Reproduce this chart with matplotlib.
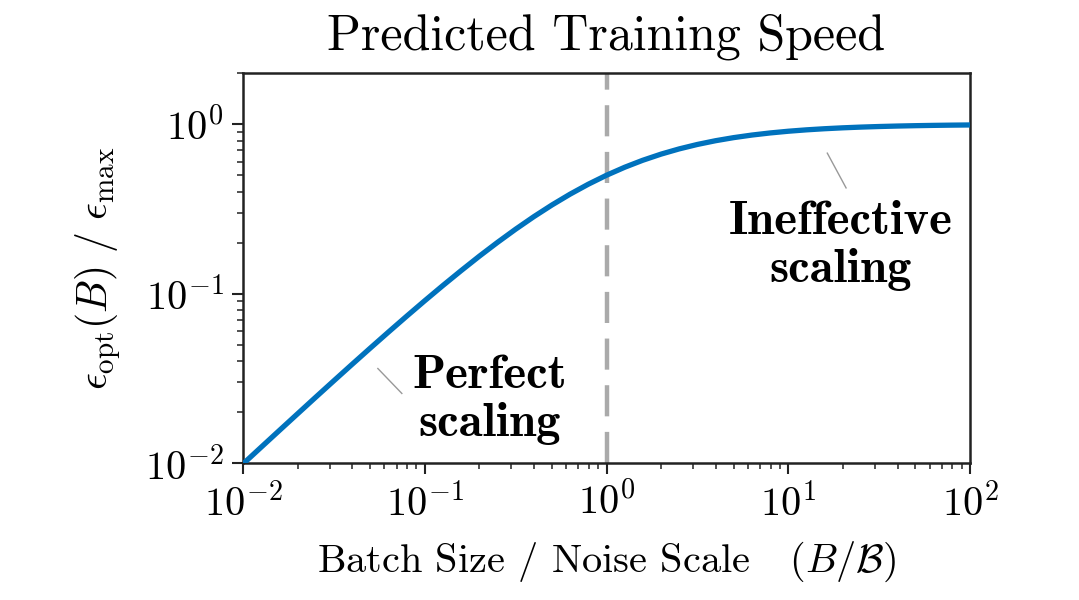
import matplotlib
matplotlib.use("Agg")
import matplotlib.pyplot as plt

plt.rcParams['font.family'] = 'serif'
plt.rcParams['font.serif'] = ['cmr10']
plt.rcParams['mathtext.fontset'] = 'cm'
plt.rcParams['axes.formatter.use_mathtext'] = True

# Data
batch_ratio = [0.01, 0.0126, 0.0158, 0.02, 0.0251, 0.0316, 0.0398, 0.0501, 0.0631, 0.0794,
               0.1, 0.126, 0.158, 0.2, 0.251, 0.316, 0.398, 0.501, 0.631, 0.794,
               1.0, 1.26, 1.58, 2.0, 2.51, 3.16, 3.98, 5.01, 6.31, 7.94,
               10.0, 12.6, 15.8, 20.0, 25.1, 31.6, 39.8, 50.1, 63.1, 79.4, 100.0]
eps_ratio = [0.0099, 0.01244, 0.01555, 0.0196, 0.02449, 0.03063, 0.03828, 0.04771, 0.05935, 0.07356,
             0.0909, 0.1119, 0.1364, 0.1667, 0.2006, 0.2401, 0.2847, 0.3338, 0.3869, 0.4426,
             0.5000, 0.5575, 0.6124, 0.6667, 0.7151, 0.7596, 0.7992, 0.8336, 0.8632, 0.8881,
             0.9091, 0.9265, 0.9405, 0.9524, 0.9617, 0.9693, 0.9755, 0.9804, 0.9844, 0.9876, 0.9901]
crossover = 1.0
title = "Predicted Training Speed"
xlabel = r"Batch Size / Noise Scale   $(B/\mathcal{B})$"
ylabel = r"$\epsilon_{\mathrm{opt}}(B)\ /\ \epsilon_{\max}$"
label_perfect = "Perfect\nscaling"
label_ineffective = "Ineffective\nscaling"

fig = plt.figure(figsize=(10.79, 6.0), dpi=100)
ax = fig.add_axes([0.2252, 0.228, 0.6738, 0.650])

ax.plot(batch_ratio, eps_ratio, color='#0072BD', lw=3.8, zorder=3)
ax.axvline(crossover, color='#aaaaaa', lw=3.2, ls=(0, (7, 3.5)), zorder=2)

ax.set_xscale('log')
ax.set_yscale('log')
ax.set_xlim(0.01, 100)
ax.set_ylim(0.01, 2.0)

for s in ax.spines.values():
    s.set_linewidth(1.8)
    s.set_color('#222222')
ax.tick_params(which='major', length=8, width=1.5, labelsize=29, pad=6, color='#222222')
ax.tick_params(which='minor', length=4.5, width=1.1, color='#222222')

ax.set_title(title, fontsize=36, pad=17)
ax.set_xlabel(xlabel, fontsize=29, labelpad=12)
ax.set_ylabel(ylabel, fontsize=30, labelpad=16)

ax.text(0.2275, 0.0236, label_perfect, fontfamily='cmb10', fontsize=35,
        ha='center', va='center', linespacing=1.15)
ax.plot([0.0552, 0.0748], [0.0362, 0.0258], color='#999999', lw=1.0)

ax.text(19.5, 0.191, label_ineffective, fontfamily='cmb10', fontsize=35,
        ha='center', va='center', linespacing=1.15)
ax.plot([16.4, 20.8], [0.675, 0.421], color='#999999', lw=1.0)

fig.savefig("out.png", dpi=100, facecolor='white')
